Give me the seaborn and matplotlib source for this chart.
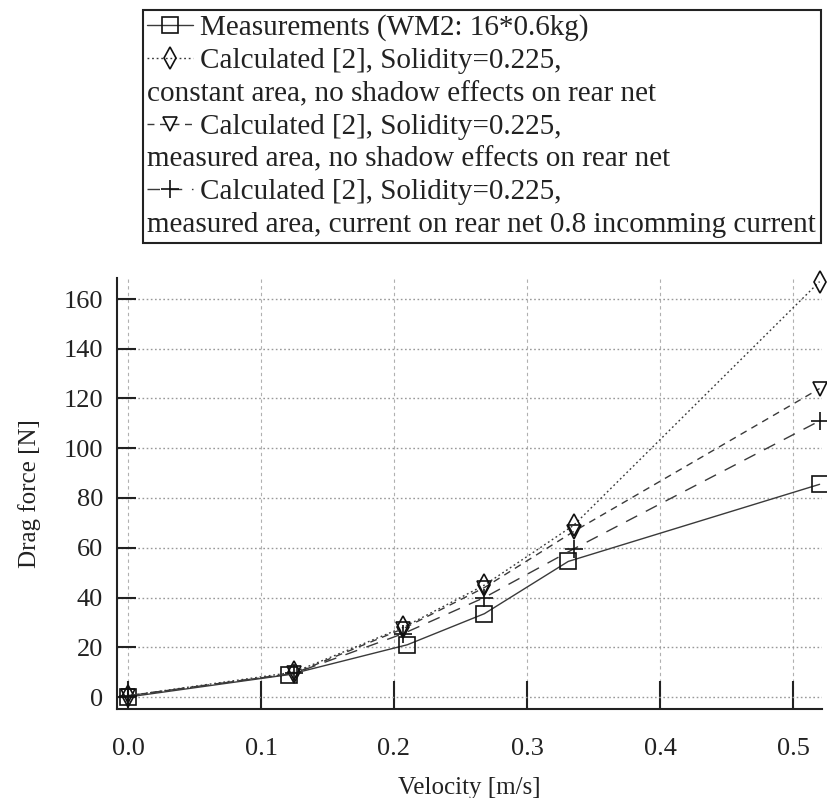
import matplotlib
matplotlib.use("Agg")
import matplotlib.pyplot as plt
import seaborn as sns
from matplotlib.lines import Line2D

# ---- data ----
velocity_meas = [0.0, 0.121, 0.210, 0.268, 0.331, 0.520]
force_meas = [0.0, 9.0, 21.0, 33.5, 54.5, 85.5]
velocity_calc = [0.0, 0.125, 0.207, 0.268, 0.335, 0.520]
force_const_area = [0.5, 10.0, 28.0, 45.0, 69.0, 167.0]
force_meas_area = [0.5, 9.5, 27.5, 44.0, 66.5, 124.0]
force_rear_current = [0.5, 9.5, 25.5, 40.0, 59.5, 111.0]

label_meas = "Measurements (WM2: 16*0.6kg)"
label_calc = "Calculated [2], Solidity=0.225,"
cont_const = "constant area, no shadow effects on rear net"
cont_meas = "measured area, no shadow effects on rear net"
cont_rear = "measured area, current on rear net 0.8 incomming current"

x_ticks = [0.0, 0.1, 0.2, 0.3, 0.4, 0.5]
y_ticks = [0, 20, 40, 60, 80, 100, 120, 140, 160]

sns.set_style("ticks")
plt.rcParams["font.family"] = ["Liberation Serif", "DejaVu Serif"]
plt.rcParams["mathtext.fontset"] = "stix"

W, H = 827, 798
fig = plt.figure(figsize=(W / 100, H / 100), dpi=100)
ax = fig.add_axes([117 / W, 1 - 709 / H, (822 - 117) / W, (709 - 278) / H])

line_col = "#3a3a3a"
common = dict(ax=ax, color=line_col, linewidth=1.0, markerfacecolor="none",
              markeredgecolor="#111111", markeredgewidth=1.2, clip_on=False,
              sort=False)

sns.lineplot(x=velocity_meas, y=force_meas, marker="s", markersize=11,
             linestyle="-", **common)
sns.lineplot(x=velocity_calc, y=force_const_area, marker="d", markersize=11,
             linestyle=(0, (1.3, 2.0)), **common)
sns.lineplot(x=velocity_calc, y=force_meas_area, marker="v", markersize=10,
             linestyle=(0, (5, 4)), **common)
sns.lineplot(x=velocity_calc, y=force_rear_current, marker="+", markersize=13,
             linestyle=(0, (9, 7)), **common)

ax.set_xlim(-11 / 1330, (822 - 128) / 1330)
ax.set_ylim(-(709 - 697) / 2.4875, 160 + (299 - 278) / 2.4875)
ax.set_xticks(x_ticks)
ax.set_xticklabels([f"{t:.1f}" for t in x_ticks])
ax.set_yticks(y_ticks)

ax.xaxis.grid(True, color="#b0b0b0", linestyle=(0, (3, 3)), linewidth=0.8)
ax.yaxis.grid(True, color="#999999", linestyle=(0, (1.2, 1.8)), linewidth=1.0)
ax.set_axisbelow(True)

for s in ["top", "right"]:
    ax.spines[s].set_visible(False)
for s in ["left", "bottom"]:
    ax.spines[s].set_color("#222222")
    ax.spines[s].set_linewidth(1.5)

ax.tick_params(axis="x", direction="in", length=20, width=1.5, color="#222222",
               labelsize=19, pad=21, labelcolor="#222222")
ax.tick_params(axis="y", direction="in", length=14, width=1.5, color="#222222",
               labelsize=19, pad=10, labelcolor="#222222")

ax.set_xlabel("Velocity [m/s]", fontsize=18, color="#222222", labelpad=12)
ax.set_ylabel("Drag force [N]", fontsize=18, color="#222222", labelpad=16)

# ---- legend ----
blank = Line2D([], [], linestyle="none")
handles = [ax.lines[0], ax.lines[1], blank, ax.lines[2], blank, ax.lines[3], blank]
labels = [label_meas, label_calc, cont_const, label_calc, cont_meas, label_calc, cont_rear]
leg = fig.legend(handles, labels, loc="upper left",
                 bbox_to_anchor=(143 / W, 1 - 10 / H), bbox_transform=fig.transFigure,
                 fontsize=21, frameon=True, fancybox=False, shadow=False,
                 handlelength=1.55, handletextpad=0.25, borderpad=0.15,
                 labelspacing=0.22, borderaxespad=0, framealpha=1)
leg.get_frame().set_edgecolor("#222222")
leg.get_frame().set_linewidth(1.5)
for t in leg.get_texts():
    t.set_color("#222222")

cont_set = {cont_const, cont_meas, cont_rear}
for col in leg._legend_handle_box.get_children():
    for row in col.get_children():
        kids = row.get_children()
        if len(kids) == 2 and hasattr(kids[1], "get_text") and kids[1].get_text() in cont_set:
            kids[0].width = 0
            row.sep = 0

fig.savefig("out.png", dpi=100)
